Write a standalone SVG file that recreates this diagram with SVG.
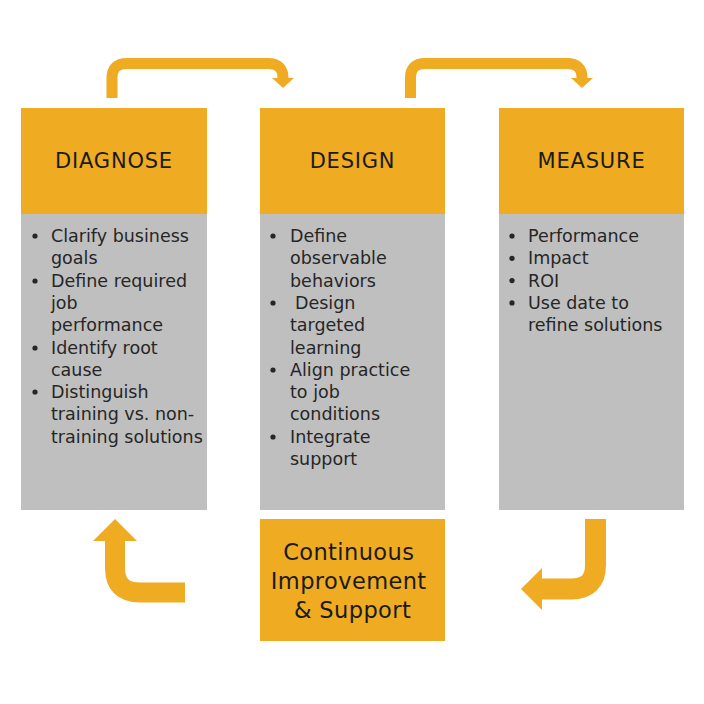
<svg xmlns="http://www.w3.org/2000/svg" width="704" height="704" viewBox="0 0 704 704">
<style>
.hdr{fill:#EFAB22}
.body{fill:#BFBFBF}
.ht{font-family:"DejaVu Sans",sans-serif;font-size:21px;fill:#1a1a1a;text-anchor:middle;letter-spacing:0.8px}
.bt{font-family:"DejaVu Sans",sans-serif;font-size:17.5px;fill:#262626}
.ct{font-family:"DejaVu Sans",sans-serif;font-size:22.5px;fill:#1a1a1a;text-anchor:middle;letter-spacing:0.4px}
.bul{fill:#262626}
.arr{fill:none;stroke:#EFAB22}
.head{fill:#EFAB22}
</style>
<rect width="704" height="704" fill="#ffffff"/>
<g id="connectors">
  <path class="arr" stroke-width="11" d="M112,98 V78 Q112,63.5 127,63.5 H268 Q283,63.5 283,78 V79"/>
  <polygon class="head" points="272,78 294,78 283,88"/>
  <path class="arr" stroke-width="11" d="M410.5,98 V78 Q410.5,63.5 425,63.5 H567 Q582,63.5 582,78 V79"/>
  <polygon class="head" points="571,78 593,78 582,88"/>
  <path class="arr" stroke-width="21" d="M595.5,519 V565 Q595.5,589 571,589 H541"/>
  <polygon class="head" points="542,568 542,610 521,589"/>
  <path class="arr" stroke-width="20" d="M185,592.5 H140 Q115,592.5 115,568 V540"/>
  <polygon class="head" points="93,541 137,541 115,519"/>
</g>
<g id="diagnose">
  <rect class="hdr" x="21" y="108" width="186" height="106"/>
  <rect class="body" x="21" y="214" width="186" height="296"/>
  <text class="ht" x="114" y="168">DIAGNOSE</text>
  <g class="bul">
    <circle cx="35" cy="236" r="2.6"/><circle cx="35" cy="281" r="2.6"/><circle cx="35" cy="348" r="2.6"/><circle cx="35" cy="392" r="2.6"/>
  </g>
  <text class="bt">
    <tspan x="51" y="242">Clarify business</tspan>
    <tspan x="51" y="264.3">goals</tspan>
    <tspan x="51" y="286.6">Define required</tspan>
    <tspan x="51" y="308.9">job</tspan>
    <tspan x="51" y="331.2">performance</tspan>
    <tspan x="51" y="353.5">Identify root</tspan>
    <tspan x="51" y="375.8">cause</tspan>
    <tspan x="51" y="398.1">Distinguish</tspan>
    <tspan x="51" y="420.4">training vs. non-</tspan>
    <tspan x="51" y="442.7">training solutions</tspan>
  </text>
</g>
<g id="design">
  <rect class="hdr" x="260" y="108" width="185" height="106"/>
  <rect class="body" x="260" y="214" width="185" height="296"/>
  <text class="ht" x="352.5" y="168">DESIGN</text>
  <g class="bul">
    <circle cx="273" cy="236" r="2.6"/><circle cx="273" cy="303" r="2.6"/><circle cx="273" cy="370" r="2.6"/><circle cx="273" cy="437" r="2.6"/>
  </g>
  <text class="bt">
    <tspan x="290" y="242">Define</tspan>
    <tspan x="290" y="264.3">observable</tspan>
    <tspan x="290" y="286.6">behaviors</tspan>
    <tspan x="295" y="308.9">Design</tspan>
    <tspan x="290" y="331.2">targeted</tspan>
    <tspan x="290" y="353.5">learning</tspan>
    <tspan x="290" y="375.8">Align practice</tspan>
    <tspan x="290" y="398.1">to job</tspan>
    <tspan x="290" y="420.4">conditions</tspan>
    <tspan x="290" y="442.7">Integrate</tspan>
    <tspan x="290" y="465">support</tspan>
  </text>
</g>
<g id="measure">
  <rect class="hdr" x="499" y="108" width="185" height="106"/>
  <rect class="body" x="499" y="214" width="185" height="296"/>
  <text class="ht" x="591.5" y="168">MEASURE</text>
  <g class="bul">
    <circle cx="512" cy="236" r="2.6"/><circle cx="512" cy="258.3" r="2.6"/><circle cx="512" cy="280.6" r="2.6"/><circle cx="512" cy="302.9" r="2.6"/>
  </g>
  <text class="bt">
    <tspan x="528" y="242">Performance</tspan>
    <tspan x="528" y="264.3">Impact</tspan>
    <tspan x="528" y="286.6">ROI</tspan>
    <tspan x="528" y="308.9">Use date to</tspan>
    <tspan x="528" y="331.2">refine solutions</tspan>
  </text>
</g>
<g id="continuous">
  <rect class="hdr" x="260" y="519" width="185" height="122"/>
  <text class="ct">
    <tspan x="352.5" y="560">Continuous</tspan>
    <tspan x="352.5" y="589">Improvement</tspan>
    <tspan x="352.5" y="618">&amp; Support</tspan>
  </text>
</g>
</svg>
